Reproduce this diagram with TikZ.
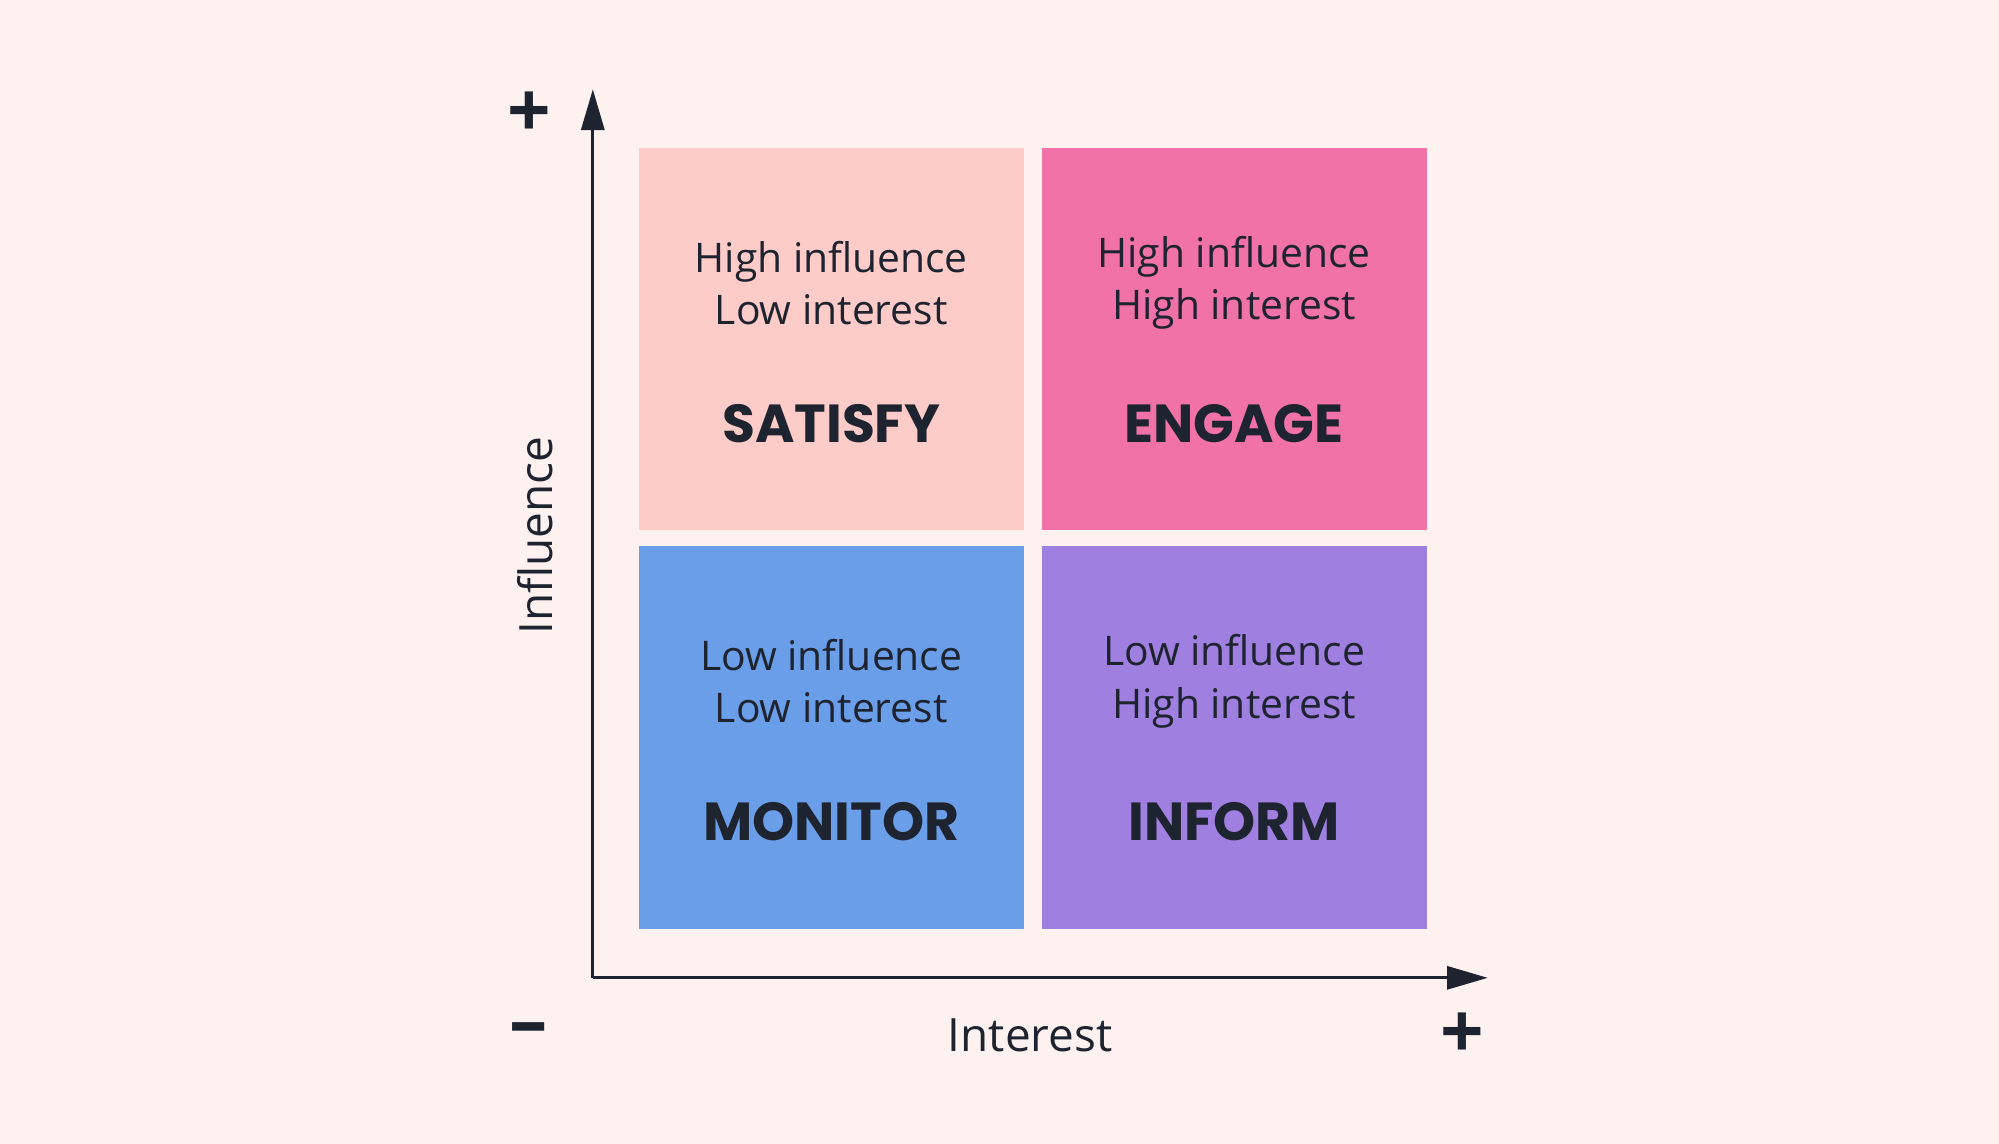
\documentclass[tikz,border=0pt]{standalone}
\usepackage{fontspec}
\setmainfont{Open Sans}
\newfontfamily\titlefont{Poppins}
\usetikzlibrary{arrows.meta}
\definecolor{bg}{HTML}{FEF2F1}
\definecolor{ink}{HTML}{1E2330}
\definecolor{csat}{HTML}{FECCC8}
\definecolor{ceng}{HTML}{F072A6}
\definecolor{cmon}{HTML}{6B9EE8}
\definecolor{cinf}{HTML}{9F80E0}
\tikzset{
 quad/.style={draw=none,minimum width=151pt,minimum height=150pt,inner sep=0pt},
 sub/.style={text=ink,font=\fontsize{16}{20.5}\selectfont,align=center},
 ttl/.style={text=ink,font=\titlefont\bfseries\fontsize{21}{24}\selectfont},
 axis/.style={draw=ink,line width=1.3pt,-{Triangle[length=16pt,width=9pt]}},
 sign/.style={text=ink,font=\fontsize{30}{32}\selectfont\bfseries}
}
\begin{document}
\begin{tikzpicture}[x=0.5pt,y=-0.5pt]
\fill[bg] (0,0) rectangle (1568,897);
\useasboundingbox (0,0) rectangle (1568,897);
\node[quad,fill=csat] (sat) at (652,266) {};
\node[quad,fill=ceng] (eng) at (968,266) {};
\node[quad,fill=cmon] (mon) at (652,578.5) {};
\node[quad,fill=cinf] (inf) at (968,578.5) {};
\foreach \n/\a/\b/\c in {sat/High influence/Low interest/SATISFY,eng/High influence/High interest/ENGAGE,mon/Low influence/Low interest/MONITOR,inf/Low influence/High interest/INFORM}{
 \node[sub] at ([yshift=22pt]\n.center) {\a\\\b};
 \node[ttl] at ([yshift=-33pt]\n.center) {\c};
}
\coordinate (o) at (465,767);
\coordinate (ytip) at (465,70);
\coordinate (xtip) at (1167,767);
\draw[axis] (o) -- (ytip);
\draw[axis] (o) -- (xtip);
\node[sign] (p1) at (415,90) {+};
\node[sign] (m1) at (415,812) {–};
\node[sign] (p2) at (1147,812) {+};
\node[sub,font=\fontsize{18}{20}\selectfont] (ix) at (808,812) {Interest};
\node[sub,font=\fontsize{18}{20}\selectfont,rotate=90] (iy) at (420,420) {Influence};
\end{tikzpicture}
\end{document}
